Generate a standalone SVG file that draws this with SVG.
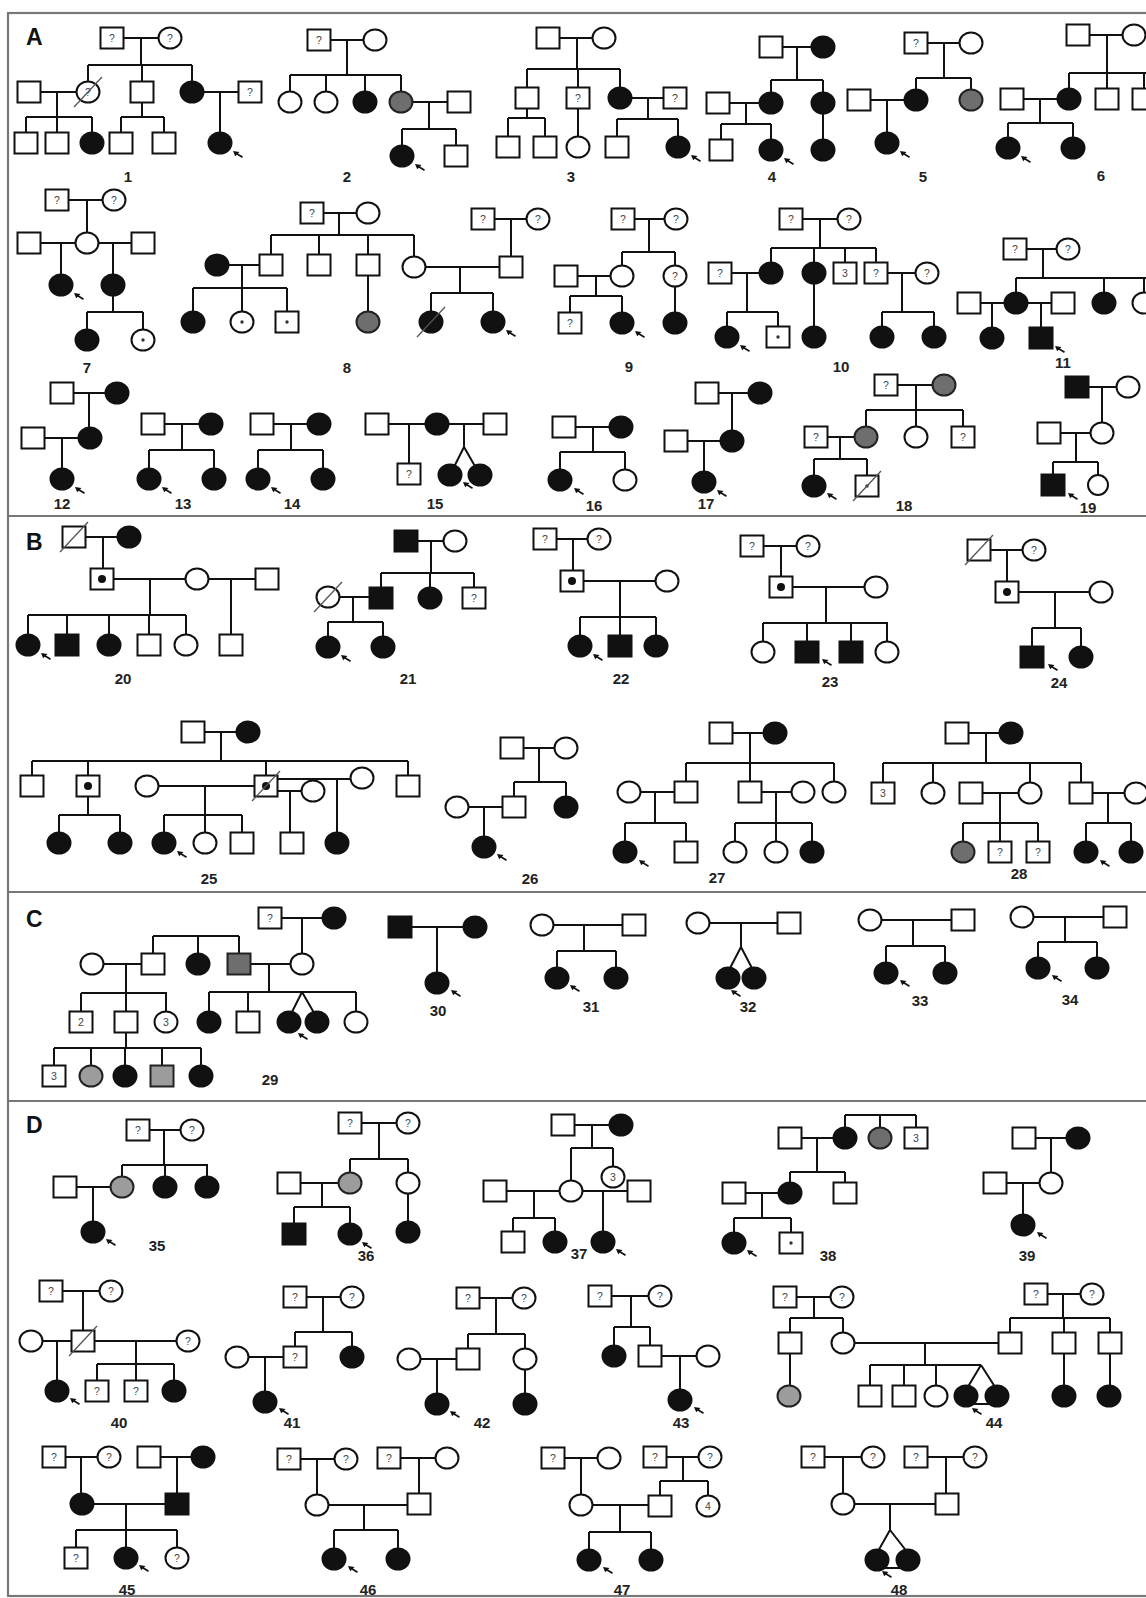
<svg xmlns="http://www.w3.org/2000/svg" xmlns:xlink="http://www.w3.org/1999/xlink" width="1146" height="1598" viewBox="0 0 1146 1598">
<style>
.o{fill:#fff;stroke:#111;stroke-width:2}
.f{fill:#111;stroke:#111;stroke-width:2}
.g{fill:#6e6e6e;stroke:#222;stroke-width:2}
.l{fill:#9c9c9c;stroke:#222;stroke-width:2}
.ln path{fill:none;stroke:#111;stroke-width:2}
.q{font-family:"Liberation Sans",Arial,sans-serif;font-size:10.5px;fill:#444;text-anchor:middle}
.lb{font-family:"Liberation Sans",Arial,sans-serif;font-size:15px;font-weight:bold;fill:#222;text-anchor:middle}
.sec{font-family:"Liberation Sans",Arial,sans-serif;font-size:23px;font-weight:bold;fill:#111}
.fr{fill:none;stroke:#777;stroke-width:2.2}
</style>
<defs>
<rect id="s" x="-11.5" y="-10.5" width="23" height="21" class="o"/>
<rect id="S" x="-11.5" y="-10.5" width="23" height="21" class="f"/>
<rect id="Sg" x="-11.5" y="-10.5" width="23" height="21" class="g"/>
<rect id="Sl" x="-11.5" y="-10.5" width="23" height="21" class="l"/>
<ellipse id="c" rx="11.5" ry="10.5" class="o"/>
<ellipse id="C" rx="11.5" ry="10.5" class="f"/>
<ellipse id="Cg" rx="11.5" ry="10.5" class="g"/>
<ellipse id="Cl" rx="11.5" ry="10.5" class="l"/>
<circle id="d" r="4" fill="#111"/>
<circle id="m" r="1.7" fill="#333"/>
<line id="x" x1="-14" y1="15" x2="14" y2="-15" stroke="#555" stroke-width="1.3"/>
<g id="a"><line x1="3" y1="2.2" x2="9.5" y2="6.3" stroke="#111" stroke-width="1.6"/><polygon points="0,0 6.5,1 2.2,5.2" fill="#111"/></g>
</defs>
<rect width="1146" height="1598" fill="#fff"/>
<g id="frame">
<rect class="fr" x="8" y="13" width="1150" height="1583"/>
<line class="fr" x1="8" y1="516" x2="1146" y2="516"/>
<line class="fr" x1="8" y1="892" x2="1146" y2="892"/>
<line class="fr" x1="8" y1="1101" x2="1146" y2="1101"/>
<text class="sec" x="26" y="45">A</text>
<text class="sec" x="26" y="550">B</text>
<text class="sec" x="26" y="927">C</text>
<text class="sec" x="26" y="1133">D</text>
</g>
<g id="connectors" class="ln">
<path d="M112 38H170M141 38V65M88 65H192M88 65V92M142 65V92M192 65V92M29 92H88M57 92V117M26 117H92M26 117V143M57 117V143M92 117V143M142 92V117M121 117H164M121 117V143M164 117V143M192 92H250M220 92V143"/>
<path d="M319 40H375M347 40V75M290 75H401M290 75V102M326 75V102M365 75V102M401 75V102M401 102H459M429 102V129M402 129H456M402 129V156M456 129V156"/>
<path d="M548 38H604M577 38V69M527 69H620M527 69V98M578 69V98M620 69V98M527 98V118M508 118H545M508 118V147M545 118V147M578 98V147M620 98H675M648 98V119M617 119H678M617 119V147M678 119V147"/>
<path d="M771 47H823M797 47V80M771 80H823M771 80V103M823 80V103M718 103H771M746 103V124M721 124H771M721 124V150M771 124V150M823 103V150"/>
<path d="M916 43H971M944 43V78M916 78H971M916 78V100M971 78V100M859 100H916M887 100V143"/>
<path d="M1078 35H1134M1107 35V73M1069 73H1150M1069 73V99M1107 73V99M1144 73V99M1012 99H1069M1040 99V123M1008 123H1073M1008 123V148M1073 123V148"/>
<path d="M57 200H114M87 200V243M29 243H143M61 243V285M113 243V285M113 285V312M87 312H143M87 312V340M143 312V340"/>
<path d="M312 213H368M339 213V235M271 235H414M271 235V265M319 235V265M368 235V265M414 235V267M217 265H271M242 265V288M193 288H287M193 288V322M242 288V322M287 288V322M368 265V322M414 267H511M460 267V293M431 293H493M431 293V322M493 293V322M483 219H538M511 219V267"/>
<path d="M623 219H676M649 219V252M622 252H675M622 252V276M675 252V276M566 276H622M596 276V296M570 296H622M570 296V323M622 296V323M675 276V323"/>
<path d="M791 219H849M820 219V248M771 248H876M771 248V273M814 248V273M845 248V273M876 248V273M720 273H771M747 273V312M727 312H778M727 312V337M778 312V337M814 273V337M876 273H927M902 273V312M882 312H934M882 312V337M934 312V337"/>
<path d="M1015 249H1068M1043 249V278M1016 278H1150M1016 278V303M1104 278V303M1144 278V303M969 303H1063M992 303V338M1041 303V338"/>
<path d="M62 393H117M89 393V438M33 438H90M62 438V479"/>
<path d="M153 424H211M182 424V450M149 450H214M149 450V479M214 450V479"/>
<path d="M262 424H319M291 424V450M258 450H323M258 450V479M323 450V479"/>
<path d="M377 424H495M409 424V474M464 424V447L450 475M464 447L480 475"/>
<path d="M564 427H621M593 427V452M560 452H625M560 452V480M625 452V480"/>
<path d="M707 393H760M732 393V441M676 441H732M704 441V482"/>
<path d="M886 385H944M916 385V410M866 410H963M866 410V437M916 410V437M963 410V437M816 437H866M840 437V459M814 459H867M814 459V486M867 459V486"/>
<path d="M1077 387H1128M1102 387V433M1049 433H1102M1076 433V462M1053 462H1098M1053 462V485M1098 462V485"/>
<path d="M74 537H129M103 537V579M102 579H267M150 579V615M28 615H186M28 615V645M67 615V645M109 615V645M149 615V645M186 615V645M231 579V645"/>
<path d="M406 541H455M431 541V573M381 573H474M381 573V598M430 573V598M474 573V598M328 597H381M353 597V622M328 622H383M328 622V647M383 622V647"/>
<path d="M545 539H599M573 539V581M572 581H667M620 581V617M580 617H656M580 617V646M620 617V646M656 617V646"/>
<path d="M752 546H808M781 546V587M781 587H876M826 587V623M763 623H888M763 623V652M807 623V652M851 623V652M887 623V652"/>
<path d="M979 550H1034M1007 550V592M1007 592H1101M1055 592V628M1032 628H1081M1032 628V657M1081 628V657"/>
<path d="M193 732H248M221 732V761M32 761H408M32 761V786M88 761V786M266 761V786M408 761V786M88 786V815M59 815H120M59 815V843M120 815V843M147 786H266M205 786V815M164 815H242M164 815V843M205 815V843M242 815V843M266 791H313M290 791V843M266 779H362M337 779V843"/>
<path d="M512 748H566M539 748V782M514 782H566M514 782V807M566 782V807M457 807H514M484 807V847"/>
<path d="M721 733H775M750 733V763M686 763H834M686 763V792M750 763V792M834 763V792M629 792H686M655 792V823M625 823H686M625 823V852M686 823V852M750 792H803M776 792V823M735 823H812M735 823V852M776 823V852M812 823V852"/>
<path d="M957 733H1011M986 733V763M883 763H1081M883 763V793M933 763V793M1030 763V793M1081 763V793M971 793H1030M1000 793V823M963 823H1038M963 823V852M1000 823V852M1038 823V852M1081 793H1136M1108 793V823M1086 823H1131M1086 823V852M1131 823V852"/>
<path d="M270 918H334M302 918V964M239 964H302M269 964V992M209 992H356M209 992V1022M248 992V1022M356 992V1022M302 992L289 1018M302 992L317 1018M153 936H239M153 936V964M198 936V964M239 936V964M92 964H153M126 964V993M81 993H167M81 993V1022M126 993V1022M166 993V1022M126 1022V1048M54 1048H201M54 1048V1076M91 1048V1076M125 1048V1076M162 1048V1076M201 1048V1076"/>
<path d="M400 927H475M437 927V983"/>
<path d="M542 925H634M584 925V951M557 951H616M557 951V978M616 951V978"/>
<path d="M698 923H789M741 923V947L728 972M741 947L754 972"/>
<path d="M870 920H963M913 920V946M886 946H945M886 946V973M945 946V973"/>
<path d="M1022 917H1115M1065 917V942M1038 942H1097M1038 942V968M1097 942V968"/>
<path d="M138 1130H192M164 1130V1165M122 1165H208M122 1165V1187M165 1165V1187M207 1165V1187M65 1187H122M93 1187V1232"/>
<path d="M350 1123H408M379 1123V1159M350 1159H408M350 1159V1183M408 1159V1183M289 1183H350M322 1183V1207M294 1207H350M294 1207V1234M350 1207V1234M408 1183V1232"/>
<path d="M563 1125H621M592 1125V1148M571 1148H613M571 1148V1191M613 1148V1177M495 1191H639M534 1191V1218M513 1218H555M513 1218V1242M555 1218V1242M603 1191V1242"/>
<path d="M845 1115H916M845 1115V1138M880 1115V1138M916 1115V1138M790 1138H845M817 1138V1172M790 1172H845M790 1172V1193M845 1172V1193M734 1193H790M762 1193V1218M734 1218H791M734 1218V1243M791 1218V1243"/>
<path d="M1024 1138H1078M1051 1138V1183M995 1183H1051M1023 1183V1225"/>
<path d="M51 1291H111M83 1291V1341M31 1341H188M57 1341V1391M136 1341V1364M97 1364H174M97 1364V1391M136 1364V1391M174 1364V1391"/>
<path d="M295 1297H352M323 1297V1332M295 1332H352M295 1332V1357M352 1332V1357M237 1357H295M265 1357V1402"/>
<path d="M468 1298H524M496 1298V1334M468 1334H525M468 1334V1359M525 1334V1359M409 1359H468M437 1359V1404M525 1359V1404"/>
<path d="M600 1296H660M631 1296V1327M614 1327H650M614 1327V1356M650 1327V1356M650 1356H708M680 1356V1400"/>
<path d="M785 1297H842M814 1297V1318M790 1318H843M790 1318V1343M843 1318V1343M790 1343V1396M1036 1294H1092M1063 1294V1318M1010 1318H1110M1010 1318V1343M1064 1318V1343M1110 1318V1343M1064 1343V1396M1110 1343V1396M843 1343H1010M925 1343V1365M870 1365H981M870 1365V1396M904 1365V1396M936 1365V1396M981 1365L966 1390M981 1365L997 1390M966 1404H997"/>
<path d="M54 1457H109M81 1457V1504M149 1457H203M177 1457V1504M82 1504H177M126 1504V1530M76 1530H177M76 1530V1558M126 1530V1558M177 1530V1558"/>
<path d="M289 1459H346M317 1459V1505M389 1458H447M419 1458V1504M317 1505H419M364 1505V1530M334 1530H398M334 1530V1559M398 1530V1559"/>
<path d="M553 1458H609M581 1458V1505M655 1457H710M683 1457V1481M660 1481H708M660 1481V1506M708 1481V1506M581 1505H660M620 1505V1532M589 1532H651M589 1532V1560M651 1532V1560"/>
<path d="M813 1457H873M843 1457V1504M916 1457H975M946 1457V1504M843 1504H947M890 1504V1530L877 1553M890 1530L908 1553M877 1568H908"/>
</g>
<g id="nodes">
<g id="p1"><g id="n1a"><use href="#s" x="112" y="38"/><text class="q" x="112" y="42">?</text></g><g id="n1b"><use href="#c" x="170" y="38"/><text class="q" x="170" y="42">?</text></g><g id="n1c"><use href="#c" x="88" y="92"/><text class="q" x="88" y="96">?</text><use href="#x" x="88" y="92"/></g><g id="n1d"><use href="#s" x="29" y="92"/></g><g id="n1e"><use href="#s" x="142" y="92"/></g><g id="n1f"><use href="#C" x="192" y="92"/></g><g id="n1g"><use href="#s" x="250" y="92"/><text class="q" x="250" y="96">?</text></g><g id="n1h"><use href="#s" x="26" y="143"/></g><g id="n1i"><use href="#s" x="57" y="143"/></g><g id="n1j"><use href="#C" x="92" y="143"/></g><g id="n1k"><use href="#s" x="121" y="143"/></g><g id="n1l"><use href="#s" x="164" y="143"/></g><g id="n1m"><use href="#C" x="220" y="143"/><use href="#a" x="233" y="151"/></g><text class="lb" x="128" y="182">1</text></g>
<g id="p2"><g id="n2a"><use href="#s" x="319" y="40"/><text class="q" x="319" y="44">?</text></g><g id="n2b"><use href="#c" x="375" y="40"/></g><g id="n2c"><use href="#c" x="290" y="102"/></g><g id="n2d"><use href="#c" x="326" y="102"/></g><g id="n2e"><use href="#C" x="365" y="102"/></g><g id="n2f"><use href="#Cg" x="401" y="102"/></g><g id="n2g"><use href="#s" x="459" y="102"/></g><g id="n2h"><use href="#C" x="402" y="156"/><use href="#a" x="415" y="164"/></g><g id="n2i"><use href="#s" x="456" y="156"/></g><text class="lb" x="347" y="182">2</text></g>
<g id="p3"><g id="n3a"><use href="#s" x="548" y="38"/></g><g id="n3b"><use href="#c" x="604" y="38"/></g><g id="n3c"><use href="#s" x="527" y="98"/></g><g id="n3d"><use href="#s" x="578" y="98"/><text class="q" x="578" y="102">?</text></g><g id="n3e"><use href="#C" x="620" y="98"/></g><g id="n3f"><use href="#s" x="675" y="98"/><text class="q" x="675" y="102">?</text></g><g id="n3g"><use href="#s" x="508" y="147"/></g><g id="n3h"><use href="#s" x="545" y="147"/></g><g id="n3i"><use href="#c" x="578" y="147"/></g><g id="n3j"><use href="#s" x="617" y="147"/></g><g id="n3k"><use href="#C" x="678" y="147"/><use href="#a" x="691" y="155"/></g><text class="lb" x="571" y="182">3</text></g>
<g id="p4"><g id="n4a"><use href="#s" x="771" y="47"/></g><g id="n4b"><use href="#C" x="823" y="47"/></g><g id="n4c"><use href="#C" x="771" y="103"/></g><g id="n4d"><use href="#C" x="823" y="103"/></g><g id="n4e"><use href="#s" x="718" y="103"/></g><g id="n4f"><use href="#s" x="721" y="150"/></g><g id="n4g"><use href="#C" x="771" y="150"/><use href="#a" x="784" y="158"/></g><g id="n4h"><use href="#C" x="823" y="150"/></g><text class="lb" x="772" y="182">4</text></g>
<g id="p5"><g id="n5a"><use href="#s" x="916" y="43"/><text class="q" x="916" y="47">?</text></g><g id="n5b"><use href="#c" x="971" y="43"/></g><g id="n5c"><use href="#C" x="916" y="100"/></g><g id="n5d"><use href="#Cg" x="971" y="100"/></g><g id="n5e"><use href="#s" x="859" y="100"/></g><g id="n5f"><use href="#C" x="887" y="143"/><use href="#a" x="900" y="151"/></g><text class="lb" x="923" y="182">5</text></g>
<g id="p6"><g id="n6a"><use href="#s" x="1078" y="35"/></g><g id="n6b"><use href="#c" x="1134" y="35"/></g><g id="n6c"><use href="#C" x="1069" y="99"/></g><g id="n6d"><use href="#s" x="1107" y="99"/></g><g id="n6e"><use href="#s" x="1144" y="99"/></g><g id="n6f"><use href="#s" x="1012" y="99"/></g><g id="n6g"><use href="#C" x="1008" y="148"/><use href="#a" x="1021" y="156"/></g><g id="n6h"><use href="#C" x="1073" y="148"/></g><text class="lb" x="1101" y="181">6</text></g>
<g id="p7"><g id="n7a"><use href="#s" x="57" y="200"/><text class="q" x="57" y="204">?</text></g><g id="n7b"><use href="#c" x="114" y="200"/><text class="q" x="114" y="204">?</text></g><g id="n7c"><use href="#c" x="87" y="243"/></g><g id="n7d"><use href="#s" x="29" y="243"/></g><g id="n7e"><use href="#s" x="143" y="243"/></g><g id="n7f"><use href="#C" x="61" y="285"/><use href="#a" x="74" y="293"/></g><g id="n7g"><use href="#C" x="113" y="285"/></g><g id="n7h"><use href="#C" x="87" y="340"/></g><g id="n7i"><use href="#c" x="143" y="340"/><use href="#m" x="143" y="340"/></g><text class="lb" x="87" y="373">7</text></g>
<g id="p8"><g id="n8a"><use href="#s" x="312" y="213"/><text class="q" x="312" y="217">?</text></g><g id="n8b"><use href="#c" x="368" y="213"/></g><g id="n8c"><use href="#s" x="271" y="265"/></g><g id="n8d"><use href="#s" x="319" y="265"/></g><g id="n8e"><use href="#s" x="368" y="265"/></g><g id="n8f"><use href="#c" x="414" y="267"/></g><g id="n8g"><use href="#C" x="217" y="265"/></g><g id="n8h"><use href="#C" x="193" y="322"/></g><g id="n8i"><use href="#c" x="242" y="322"/><use href="#m" x="242" y="322"/></g><g id="n8j"><use href="#s" x="287" y="322"/><use href="#m" x="287" y="322"/></g><g id="n8k"><use href="#Cg" x="368" y="322"/></g><g id="n8l"><use href="#s" x="511" y="267"/></g><g id="n8m"><use href="#s" x="483" y="219"/><text class="q" x="483" y="223">?</text></g><g id="n8n"><use href="#c" x="538" y="219"/><text class="q" x="538" y="223">?</text></g><g id="n8o"><use href="#C" x="431" y="322"/><use href="#x" x="431" y="322"/></g><g id="n8p"><use href="#C" x="493" y="322"/><use href="#a" x="506" y="330"/></g><text class="lb" x="347" y="373">8</text></g>
<g id="p9"><g id="n9a"><use href="#s" x="623" y="219"/><text class="q" x="623" y="223">?</text></g><g id="n9b"><use href="#c" x="676" y="219"/><text class="q" x="676" y="223">?</text></g><g id="n9c"><use href="#c" x="622" y="276"/></g><g id="n9d"><use href="#c" x="675" y="276"/><text class="q" x="675" y="280">?</text></g><g id="n9e"><use href="#s" x="566" y="276"/></g><g id="n9f"><use href="#s" x="570" y="323"/><text class="q" x="570" y="327">?</text></g><g id="n9g"><use href="#C" x="622" y="323"/><use href="#a" x="635" y="331"/></g><g id="n9h"><use href="#C" x="675" y="323"/></g><text class="lb" x="629" y="372">9</text></g>
<g id="p10"><g id="n10a"><use href="#s" x="791" y="219"/><text class="q" x="791" y="223">?</text></g><g id="n10b"><use href="#c" x="849" y="219"/><text class="q" x="849" y="223">?</text></g><g id="n10c"><use href="#C" x="771" y="273"/></g><g id="n10d"><use href="#C" x="814" y="273"/></g><g id="n10e"><use href="#s" x="845" y="273"/><text class="q" x="845" y="277">3</text></g><g id="n10f"><use href="#s" x="876" y="273"/><text class="q" x="876" y="277">?</text></g><g id="n10g"><use href="#c" x="927" y="273"/><text class="q" x="927" y="277">?</text></g><g id="n10h"><use href="#s" x="720" y="273"/><text class="q" x="720" y="277">?</text></g><g id="n10i"><use href="#C" x="727" y="337"/><use href="#a" x="740" y="345"/></g><g id="n10j"><use href="#s" x="778" y="337"/><use href="#m" x="778" y="337"/></g><g id="n10k"><use href="#C" x="814" y="337"/></g><g id="n10l"><use href="#C" x="882" y="337"/></g><g id="n10m"><use href="#C" x="934" y="337"/></g><text class="lb" x="841" y="372">10</text></g>
<g id="p11"><g id="n11a"><use href="#s" x="1015" y="249"/><text class="q" x="1015" y="253">?</text></g><g id="n11b"><use href="#c" x="1068" y="249"/><text class="q" x="1068" y="253">?</text></g><g id="n11c"><use href="#C" x="1016" y="303"/></g><g id="n11d"><use href="#C" x="1104" y="303"/></g><g id="n11e"><use href="#c" x="1144" y="303"/></g><g id="n11f"><use href="#s" x="969" y="303"/></g><g id="n11g"><use href="#s" x="1063" y="303"/></g><g id="n11h"><use href="#C" x="992" y="338"/></g><g id="n11i"><use href="#S" x="1041" y="338"/><use href="#a" x="1055" y="346"/></g><text class="lb" x="1063" y="368">11</text></g>
<g id="p12"><g id="n12a"><use href="#s" x="62" y="393"/></g><g id="n12b"><use href="#C" x="117" y="393"/></g><g id="n12c"><use href="#C" x="90" y="438"/></g><g id="n12d"><use href="#s" x="33" y="438"/></g><g id="n12e"><use href="#C" x="62" y="479"/><use href="#a" x="75" y="487"/></g><text class="lb" x="62" y="509">12</text></g>
<g id="p13"><g id="n13a"><use href="#s" x="153" y="424"/></g><g id="n13b"><use href="#C" x="211" y="424"/></g><g id="n13c"><use href="#C" x="149" y="479"/><use href="#a" x="162" y="487"/></g><g id="n13d"><use href="#C" x="214" y="479"/></g><text class="lb" x="183" y="509">13</text></g>
<g id="p14"><g id="n14a"><use href="#s" x="262" y="424"/></g><g id="n14b"><use href="#C" x="319" y="424"/></g><g id="n14c"><use href="#C" x="258" y="479"/><use href="#a" x="271" y="487"/></g><g id="n14d"><use href="#C" x="323" y="479"/></g><text class="lb" x="292" y="509">14</text></g>
<g id="p15"><g id="n15a"><use href="#s" x="377" y="424"/></g><g id="n15b"><use href="#C" x="437" y="424"/></g><g id="n15c"><use href="#s" x="495" y="424"/></g><g id="n15d"><use href="#s" x="409" y="474"/><text class="q" x="409" y="478">?</text></g><g id="n15e"><use href="#C" x="450" y="475"/><use href="#a" x="463" y="482"/></g><g id="n15f"><use href="#C" x="480" y="475"/></g><text class="lb" x="435" y="509">15</text></g>
<g id="p16"><g id="n16a"><use href="#s" x="564" y="427"/></g><g id="n16b"><use href="#C" x="621" y="427"/></g><g id="n16c"><use href="#C" x="560" y="480"/><use href="#a" x="574" y="488"/></g><g id="n16d"><use href="#c" x="625" y="480"/></g><text class="lb" x="594" y="511">16</text></g>
<g id="p17"><g id="n17a"><use href="#s" x="707" y="393"/></g><g id="n17b"><use href="#C" x="760" y="393"/></g><g id="n17c"><use href="#C" x="732" y="441"/></g><g id="n17d"><use href="#s" x="676" y="441"/></g><g id="n17e"><use href="#C" x="704" y="482"/><use href="#a" x="717" y="490"/></g><text class="lb" x="706" y="509">17</text></g>
<g id="p18"><g id="n18a"><use href="#s" x="886" y="385"/><text class="q" x="886" y="389">?</text></g><g id="n18b"><use href="#Cg" x="944" y="385"/></g><g id="n18c"><use href="#Cg" x="866" y="437"/></g><g id="n18d"><use href="#c" x="916" y="437"/></g><g id="n18e"><use href="#s" x="963" y="437"/><text class="q" x="963" y="441">?</text></g><g id="n18f"><use href="#s" x="816" y="437"/><text class="q" x="816" y="441">?</text></g><g id="n18g"><use href="#C" x="814" y="486"/><use href="#a" x="827" y="493"/></g><g id="n18h"><use href="#s" x="867" y="486"/><use href="#m" x="867" y="486"/><use href="#x" x="867" y="486"/></g><text class="lb" x="904" y="511">18</text></g>
<g id="p19"><g id="n19a"><use href="#S" x="1077" y="387"/></g><g id="n19b"><use href="#c" x="1128" y="387"/></g><g id="n19c"><use href="#c" x="1102" y="433"/></g><g id="n19d"><use href="#s" x="1049" y="433"/></g><g id="n19e"><use href="#S" x="1053" y="485"/><use href="#a" x="1068" y="493"/></g><g id="n19f"><ellipse cx="1098" cy="485" rx="10" ry="10" class="o"/></g><text class="lb" x="1088" y="513">19</text></g>
<g id="p20"><g id="n20a"><use href="#s" x="74" y="537"/><use href="#x" x="74" y="537"/></g><g id="n20b"><use href="#C" x="129" y="537"/></g><g id="n20c"><use href="#s" x="102" y="579"/><use href="#d" x="102" y="579"/></g><g id="n20d"><use href="#c" x="197" y="579"/></g><g id="n20e"><use href="#s" x="267" y="579"/></g><g id="n20f"><use href="#C" x="28" y="645"/><use href="#a" x="41" y="653"/></g><g id="n20g"><use href="#S" x="67" y="645"/></g><g id="n20h"><use href="#C" x="109" y="645"/></g><g id="n20i"><use href="#s" x="149" y="645"/></g><g id="n20j"><use href="#c" x="186" y="645"/></g><g id="n20k"><use href="#s" x="231" y="645"/></g><text class="lb" x="123" y="684">20</text></g>
<g id="p21"><g id="n21a"><use href="#S" x="406" y="541"/></g><g id="n21b"><use href="#c" x="455" y="541"/></g><g id="n21c"><use href="#S" x="381" y="598"/></g><g id="n21d"><use href="#C" x="430" y="598"/></g><g id="n21e"><use href="#s" x="474" y="598"/><text class="q" x="474" y="602">?</text></g><g id="n21f"><use href="#c" x="328" y="597"/><use href="#x" x="328" y="597"/></g><g id="n21g"><use href="#C" x="328" y="647"/><use href="#a" x="341" y="655"/></g><g id="n21h"><use href="#C" x="383" y="647"/></g><text class="lb" x="408" y="684">21</text></g>
<g id="p22"><g id="n22a"><use href="#s" x="545" y="539"/><text class="q" x="545" y="543">?</text></g><g id="n22b"><use href="#c" x="599" y="539"/><text class="q" x="599" y="543">?</text></g><g id="n22c"><use href="#s" x="572" y="581"/><use href="#d" x="572" y="581"/></g><g id="n22d"><use href="#c" x="667" y="581"/></g><g id="n22e"><use href="#C" x="580" y="646"/><use href="#a" x="593" y="654"/></g><g id="n22f"><use href="#S" x="620" y="646"/></g><g id="n22g"><use href="#C" x="656" y="646"/></g><text class="lb" x="621" y="684">22</text></g>
<g id="p23"><g id="n23a"><use href="#s" x="752" y="546"/><text class="q" x="752" y="550">?</text></g><g id="n23b"><use href="#c" x="808" y="546"/><text class="q" x="808" y="550">?</text></g><g id="n23c"><use href="#s" x="781" y="587"/><use href="#d" x="781" y="587"/></g><g id="n23d"><use href="#c" x="876" y="587"/></g><g id="n23e"><use href="#c" x="763" y="652"/></g><g id="n23f"><use href="#S" x="807" y="652"/><use href="#a" x="822" y="659"/></g><g id="n23g"><use href="#S" x="851" y="652"/></g><g id="n23h"><use href="#c" x="887" y="652"/></g><text class="lb" x="830" y="687">23</text></g>
<g id="p24"><g id="n24a"><use href="#s" x="979" y="550"/><use href="#x" x="979" y="550"/></g><g id="n24b"><use href="#c" x="1034" y="550"/><text class="q" x="1034" y="554">?</text></g><g id="n24c"><use href="#s" x="1007" y="592"/><use href="#d" x="1007" y="592"/></g><g id="n24d"><use href="#c" x="1101" y="592"/></g><g id="n24e"><use href="#S" x="1032" y="657"/><use href="#a" x="1048" y="664"/></g><g id="n24f"><use href="#C" x="1081" y="657"/></g><text class="lb" x="1059" y="688">24</text></g>
<g id="p25"><g id="n25a"><use href="#s" x="193" y="732"/></g><g id="n25b"><use href="#C" x="248" y="732"/></g><g id="n25c"><use href="#s" x="32" y="786"/></g><g id="n25d"><use href="#s" x="88" y="786"/><use href="#d" x="88" y="786"/></g><g id="n25e"><use href="#c" x="147" y="786"/></g><g id="n25f"><use href="#s" x="266" y="786"/><use href="#d" x="266" y="786"/><use href="#x" x="266" y="786"/></g><g id="n25g"><use href="#c" x="313" y="791"/></g><g id="n25h"><use href="#c" x="362" y="778"/></g><g id="n25i"><use href="#s" x="408" y="786"/></g><g id="n25j"><use href="#C" x="59" y="843"/></g><g id="n25k"><use href="#C" x="120" y="843"/></g><g id="n25l"><use href="#C" x="164" y="843"/><use href="#a" x="177" y="851"/></g><g id="n25m"><use href="#c" x="205" y="843"/></g><g id="n25n"><use href="#s" x="242" y="843"/></g><g id="n25o"><use href="#s" x="292" y="843"/></g><g id="n25p"><use href="#C" x="337" y="843"/></g><text class="lb" x="209" y="884">25</text></g>
<g id="p26"><g id="n26a"><use href="#s" x="512" y="748"/></g><g id="n26b"><use href="#c" x="566" y="748"/></g><g id="n26c"><use href="#s" x="514" y="807"/></g><g id="n26d"><use href="#C" x="566" y="807"/></g><g id="n26e"><use href="#c" x="457" y="807"/></g><g id="n26f"><use href="#C" x="484" y="847"/><use href="#a" x="497" y="854"/></g><text class="lb" x="530" y="884">26</text></g>
<g id="p27"><g id="n27a"><use href="#s" x="721" y="733"/></g><g id="n27b"><use href="#C" x="775" y="733"/></g><g id="n27c"><use href="#s" x="686" y="792"/></g><g id="n27d"><use href="#s" x="750" y="792"/></g><g id="n27e"><use href="#c" x="834" y="792"/></g><g id="n27f"><use href="#c" x="629" y="792"/></g><g id="n27g"><use href="#c" x="803" y="792"/></g><g id="n27h"><use href="#C" x="625" y="852"/><use href="#a" x="639" y="860"/></g><g id="n27i"><use href="#s" x="686" y="852"/></g><g id="n27j"><use href="#c" x="735" y="852"/></g><g id="n27k"><use href="#c" x="776" y="852"/></g><g id="n27l"><use href="#C" x="812" y="852"/></g><text class="lb" x="717" y="883">27</text></g>
<g id="p28"><g id="n28a"><use href="#s" x="957" y="733"/></g><g id="n28b"><use href="#C" x="1011" y="733"/></g><g id="n28c"><use href="#s" x="883" y="793"/><text class="q" x="883" y="797">3</text></g><g id="n28d"><use href="#c" x="933" y="793"/></g><g id="n28e"><use href="#s" x="971" y="793"/></g><g id="n28f"><use href="#c" x="1030" y="793"/></g><g id="n28g"><use href="#s" x="1081" y="793"/></g><g id="n28h"><use href="#c" x="1136" y="793"/></g><g id="n28i"><use href="#Cg" x="963" y="852"/></g><g id="n28j"><use href="#s" x="1000" y="852"/><text class="q" x="1000" y="856">?</text></g><g id="n28k"><use href="#s" x="1038" y="852"/><text class="q" x="1038" y="856">?</text></g><g id="n28l"><use href="#C" x="1086" y="852"/><use href="#a" x="1100" y="860"/></g><g id="n28m"><use href="#C" x="1131" y="852"/></g><text class="lb" x="1019" y="879">28</text></g>
<g id="p29"><g id="n29a"><use href="#s" x="270" y="918"/><text class="q" x="270" y="922">?</text></g><g id="n29b"><use href="#C" x="334" y="918"/></g><g id="n29c"><use href="#c" x="302" y="964"/></g><g id="n29d"><use href="#Sg" x="239" y="964"/></g><g id="n29e"><use href="#C" x="198" y="964"/></g><g id="n29f"><use href="#s" x="153" y="964"/></g><g id="n29g"><use href="#c" x="92" y="964"/></g><g id="n29h"><use href="#C" x="209" y="1022"/></g><g id="n29i"><use href="#s" x="248" y="1022"/></g><g id="n29j"><use href="#C" x="289" y="1022"/><use href="#a" x="298" y="1033"/></g><g id="n29k"><use href="#C" x="317" y="1022"/></g><g id="n29l"><use href="#c" x="356" y="1022"/></g><g id="n29m"><use href="#s" x="81" y="1022"/><text class="q" x="81" y="1026">2</text></g><g id="n29n"><use href="#s" x="126" y="1022"/></g><g id="n29o"><use href="#c" x="166" y="1022"/><text class="q" x="166" y="1026">3</text></g><g id="n29p"><use href="#s" x="54" y="1076"/><text class="q" x="54" y="1080">3</text></g><g id="n29q"><use href="#Cl" x="91" y="1076"/></g><g id="n29r"><use href="#C" x="125" y="1076"/></g><g id="n29s"><use href="#Sl" x="162" y="1076"/></g><g id="n29t"><use href="#C" x="201" y="1076"/></g><text class="lb" x="270" y="1085">29</text></g>
<g id="p30"><g id="n30a"><use href="#S" x="400" y="927"/></g><g id="n30b"><use href="#C" x="475" y="927"/></g><g id="n30c"><use href="#C" x="437" y="983"/><use href="#a" x="451" y="990"/></g><text class="lb" x="438" y="1016">30</text></g>
<g id="p31"><g id="n31a"><use href="#c" x="542" y="925"/></g><g id="n31b"><use href="#s" x="634" y="925"/></g><g id="n31c"><use href="#C" x="557" y="978"/><use href="#a" x="570" y="985"/></g><g id="n31d"><use href="#C" x="616" y="978"/></g><text class="lb" x="591" y="1012">31</text></g>
<g id="p32"><g id="n32a"><use href="#c" x="698" y="923"/></g><g id="n32b"><use href="#s" x="789" y="923"/></g><g id="n32c"><use href="#C" x="728" y="978"/><use href="#a" x="731" y="990"/></g><g id="n32d"><use href="#C" x="754" y="978"/></g><text class="lb" x="748" y="1012">32</text></g>
<g id="p33"><g id="n33a"><use href="#c" x="870" y="920"/></g><g id="n33b"><use href="#s" x="963" y="920"/></g><g id="n33c"><use href="#C" x="886" y="973"/><use href="#a" x="900" y="980"/></g><g id="n33d"><use href="#C" x="945" y="973"/></g><text class="lb" x="920" y="1006">33</text></g>
<g id="p34"><g id="n34a"><use href="#c" x="1022" y="917"/></g><g id="n34b"><use href="#s" x="1115" y="917"/></g><g id="n34c"><use href="#C" x="1038" y="968"/><use href="#a" x="1052" y="975"/></g><g id="n34d"><use href="#C" x="1097" y="968"/></g><text class="lb" x="1070" y="1005">34</text></g>
<g id="p35"><g id="n35a"><use href="#s" x="138" y="1130"/><text class="q" x="138" y="1134">?</text></g><g id="n35b"><use href="#c" x="192" y="1130"/><text class="q" x="192" y="1134">?</text></g><g id="n35c"><use href="#Cl" x="122" y="1187"/></g><g id="n35d"><use href="#C" x="165" y="1187"/></g><g id="n35e"><use href="#C" x="207" y="1187"/></g><g id="n35f"><use href="#s" x="65" y="1187"/></g><g id="n35g"><use href="#C" x="93" y="1232"/><use href="#a" x="106" y="1239"/></g><text class="lb" x="157" y="1251">35</text></g>
<g id="p36"><g id="n36a"><use href="#s" x="350" y="1123"/><text class="q" x="350" y="1127">?</text></g><g id="n36b"><use href="#c" x="408" y="1123"/><text class="q" x="408" y="1127">?</text></g><g id="n36c"><use href="#Cl" x="350" y="1183"/></g><g id="n36d"><use href="#c" x="408" y="1183"/></g><g id="n36e"><use href="#s" x="289" y="1183"/></g><g id="n36f"><use href="#S" x="294" y="1234"/></g><g id="n36g"><use href="#C" x="350" y="1234"/><use href="#a" x="362" y="1242"/></g><g id="n36h"><use href="#C" x="408" y="1232"/></g><text class="lb" x="366" y="1261">36</text></g>
<g id="p37"><g id="n37a"><use href="#s" x="563" y="1125"/></g><g id="n37b"><use href="#C" x="621" y="1125"/></g><g id="n37c"><use href="#c" x="571" y="1191"/></g><g id="n37d"><use href="#c" x="613" y="1177"/><text class="q" x="613" y="1181">3</text></g><g id="n37e"><use href="#s" x="495" y="1191"/></g><g id="n37f"><use href="#s" x="639" y="1191"/></g><g id="n37g"><use href="#s" x="513" y="1242"/></g><g id="n37h"><use href="#C" x="555" y="1242"/></g><g id="n37i"><use href="#C" x="603" y="1242"/><use href="#a" x="616" y="1249"/></g><text class="lb" x="579" y="1259">37</text></g>
<g id="p38"><g id="n38a"><use href="#C" x="845" y="1138"/></g><g id="n38b"><use href="#Cg" x="880" y="1138"/></g><g id="n38c"><use href="#s" x="916" y="1138"/><text class="q" x="916" y="1142">3</text></g><g id="n38d"><use href="#s" x="790" y="1138"/></g><g id="n38e"><use href="#C" x="790" y="1193"/></g><g id="n38f"><use href="#s" x="845" y="1193"/></g><g id="n38g"><use href="#s" x="734" y="1193"/></g><g id="n38h"><use href="#C" x="734" y="1243"/><use href="#a" x="747" y="1250"/></g><g id="n38i"><use href="#s" x="791" y="1243"/><use href="#m" x="791" y="1243"/></g><text class="lb" x="828" y="1261">38</text></g>
<g id="p39"><g id="n39a"><use href="#s" x="1024" y="1138"/></g><g id="n39b"><use href="#C" x="1078" y="1138"/></g><g id="n39c"><use href="#c" x="1051" y="1183"/></g><g id="n39d"><use href="#s" x="995" y="1183"/></g><g id="n39e"><use href="#C" x="1023" y="1225"/><use href="#a" x="1037" y="1232"/></g><text class="lb" x="1027" y="1261">39</text></g>
<g id="p40"><g id="n40a"><use href="#s" x="51" y="1291"/><text class="q" x="51" y="1295">?</text></g><g id="n40b"><use href="#c" x="111" y="1291"/><text class="q" x="111" y="1295">?</text></g><g id="n40c"><use href="#s" x="83" y="1341"/><use href="#x" x="83" y="1341"/></g><g id="n40d"><use href="#c" x="31" y="1341"/></g><g id="n40e"><use href="#c" x="188" y="1341"/><text class="q" x="188" y="1345">?</text></g><g id="n40f"><use href="#C" x="57" y="1391"/><use href="#a" x="70" y="1398"/></g><g id="n40g"><use href="#s" x="97" y="1391"/><text class="q" x="97" y="1395">?</text></g><g id="n40h"><use href="#s" x="136" y="1391"/><text class="q" x="136" y="1395">?</text></g><g id="n40i"><use href="#C" x="174" y="1391"/></g><text class="lb" x="119" y="1428">40</text></g>
<g id="p41"><g id="n41a"><use href="#s" x="295" y="1297"/><text class="q" x="295" y="1301">?</text></g><g id="n41b"><use href="#c" x="352" y="1297"/><text class="q" x="352" y="1301">?</text></g><g id="n41c"><use href="#s" x="295" y="1357"/><text class="q" x="295" y="1361">?</text></g><g id="n41d"><use href="#C" x="352" y="1357"/></g><g id="n41e"><use href="#c" x="237" y="1357"/></g><g id="n41f"><use href="#C" x="265" y="1402"/><use href="#a" x="279" y="1408"/></g><text class="lb" x="292" y="1428">41</text></g>
<g id="p42"><g id="n42a"><use href="#s" x="468" y="1298"/><text class="q" x="468" y="1302">?</text></g><g id="n42b"><use href="#c" x="524" y="1298"/><text class="q" x="524" y="1302">?</text></g><g id="n42c"><use href="#s" x="468" y="1359"/></g><g id="n42d"><use href="#c" x="525" y="1359"/></g><g id="n42e"><use href="#c" x="409" y="1359"/></g><g id="n42f"><use href="#C" x="437" y="1404"/><use href="#a" x="450" y="1411"/></g><g id="n42g"><use href="#C" x="525" y="1404"/></g><text class="lb" x="482" y="1428">42</text></g>
<g id="p43"><g id="n43a"><use href="#s" x="600" y="1296"/><text class="q" x="600" y="1300">?</text></g><g id="n43b"><use href="#c" x="660" y="1296"/><text class="q" x="660" y="1300">?</text></g><g id="n43c"><use href="#C" x="614" y="1356"/></g><g id="n43d"><use href="#s" x="650" y="1356"/></g><g id="n43e"><use href="#c" x="708" y="1356"/></g><g id="n43f"><use href="#C" x="680" y="1400"/><use href="#a" x="694" y="1407"/></g><text class="lb" x="681" y="1428">43</text></g>
<g id="p44"><g id="n44a"><use href="#s" x="785" y="1297"/><text class="q" x="785" y="1301">?</text></g><g id="n44b"><use href="#c" x="842" y="1297"/><text class="q" x="842" y="1301">?</text></g><g id="n44c"><use href="#s" x="790" y="1343"/></g><g id="n44d"><use href="#c" x="843" y="1343"/></g><g id="n44e"><use href="#Cl" x="789" y="1396"/></g><g id="n44f"><use href="#s" x="1036" y="1294"/><text class="q" x="1036" y="1298">?</text></g><g id="n44g"><use href="#c" x="1092" y="1294"/><text class="q" x="1092" y="1298">?</text></g><g id="n44h"><use href="#s" x="1010" y="1343"/></g><g id="n44i"><use href="#s" x="1064" y="1343"/></g><g id="n44j"><use href="#s" x="1110" y="1343"/></g><g id="n44k"><use href="#s" x="870" y="1396"/></g><g id="n44l"><use href="#s" x="904" y="1396"/></g><g id="n44m"><use href="#c" x="936" y="1396"/></g><g id="n44n"><use href="#C" x="966" y="1396"/><use href="#a" x="972" y="1408"/></g><g id="n44o"><use href="#C" x="997" y="1396"/></g><g id="n44p"><use href="#C" x="1064" y="1396"/></g><g id="n44q"><use href="#C" x="1109" y="1396"/></g><text class="lb" x="994" y="1428">44</text></g>
<g id="p45"><g id="n45a"><use href="#s" x="54" y="1457"/><text class="q" x="54" y="1461">?</text></g><g id="n45b"><use href="#c" x="109" y="1457"/><text class="q" x="109" y="1461">?</text></g><g id="n45c"><use href="#s" x="149" y="1457"/></g><g id="n45d"><use href="#C" x="203" y="1457"/></g><g id="n45e"><use href="#C" x="82" y="1504"/></g><g id="n45f"><use href="#S" x="177" y="1504"/></g><g id="n45g"><use href="#s" x="76" y="1558"/><text class="q" x="76" y="1562">?</text></g><g id="n45h"><use href="#C" x="126" y="1558"/><use href="#a" x="139" y="1565"/></g><g id="n45i"><use href="#c" x="177" y="1558"/><text class="q" x="177" y="1562">?</text></g><text class="lb" x="127" y="1595">45</text></g>
<g id="p46"><g id="n46a"><use href="#s" x="289" y="1459"/><text class="q" x="289" y="1463">?</text></g><g id="n46b"><use href="#c" x="346" y="1459"/><text class="q" x="346" y="1463">?</text></g><g id="n46c"><use href="#c" x="317" y="1505"/></g><g id="n46d"><use href="#s" x="389" y="1458"/><text class="q" x="389" y="1462">?</text></g><g id="n46e"><use href="#c" x="447" y="1458"/></g><g id="n46f"><use href="#s" x="419" y="1504"/></g><g id="n46g"><use href="#C" x="334" y="1559"/><use href="#a" x="348" y="1566"/></g><g id="n46h"><use href="#C" x="398" y="1559"/></g><text class="lb" x="368" y="1595">46</text></g>
<g id="p47"><g id="n47a"><use href="#s" x="553" y="1458"/><text class="q" x="553" y="1462">?</text></g><g id="n47b"><use href="#c" x="609" y="1458"/></g><g id="n47c"><use href="#c" x="581" y="1505"/></g><g id="n47d"><use href="#s" x="655" y="1457"/><text class="q" x="655" y="1461">?</text></g><g id="n47e"><use href="#c" x="710" y="1457"/><text class="q" x="710" y="1461">?</text></g><g id="n47f"><use href="#s" x="660" y="1506"/></g><g id="n47g"><use href="#c" x="708" y="1506"/><text class="q" x="708" y="1510">4</text></g><g id="n47h"><use href="#C" x="589" y="1560"/><use href="#a" x="603" y="1567"/></g><g id="n47i"><use href="#C" x="651" y="1560"/></g><text class="lb" x="622" y="1595">47</text></g>
<g id="p48"><g id="n48a"><use href="#s" x="813" y="1457"/><text class="q" x="813" y="1461">?</text></g><g id="n48b"><use href="#c" x="873" y="1457"/><text class="q" x="873" y="1461">?</text></g><g id="n48c"><use href="#c" x="843" y="1504"/></g><g id="n48d"><use href="#s" x="916" y="1457"/><text class="q" x="916" y="1461">?</text></g><g id="n48e"><use href="#c" x="975" y="1457"/><text class="q" x="975" y="1461">?</text></g><g id="n48f"><use href="#s" x="947" y="1504"/></g><g id="n48g"><use href="#C" x="877" y="1560"/><use href="#a" x="882" y="1571"/></g><g id="n48h"><use href="#C" x="908" y="1560"/></g><text class="lb" x="899" y="1595">48</text></g>
</g>
</svg>
